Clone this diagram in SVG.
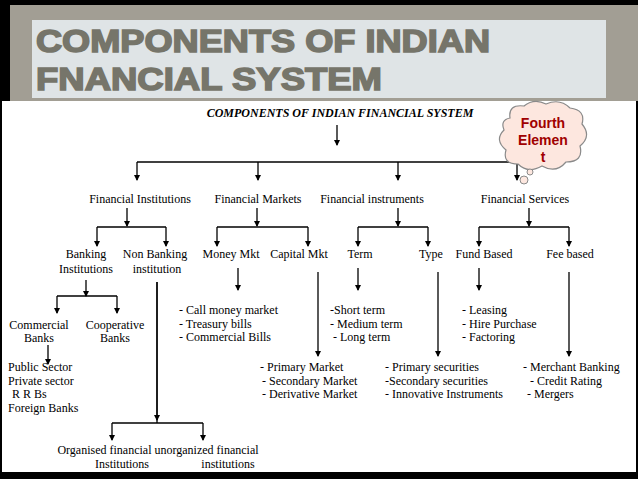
<svg xmlns="http://www.w3.org/2000/svg" width="638" height="479" viewBox="0 0 638 479">
<defs>
<marker id="ah" markerWidth="6" markerHeight="6" refX="5" refY="3" orient="auto" markerUnits="userSpaceOnUse"><path d="M0,0 L6,3 L0,6 z" fill="#000"/></marker>
<style>
.t{font-family:"Liberation Serif",serif;font-size:12px;fill:#000}
.m{text-anchor:middle}
.c{stroke:#000;stroke-width:1.3;fill:none}
.a{stroke:#000;stroke-width:1.3;fill:none;marker-end:url(#ah)}
.h{font-family:"Liberation Sans",Arial,sans-serif;font-weight:bold;font-size:32px;fill:#76756a;stroke:#76756a;stroke-width:1.6}
</style>
</defs>
<rect width="638" height="479" fill="#000"/>
<rect x="10" y="5" width="628" height="96" fill="#a29e94"/>
<rect x="32" y="20" width="574" height="78" fill="#dfe4e6"/>
<text x="36" y="52" class="h" textLength="454" lengthAdjust="spacingAndGlyphs">COMPONENTS OF INDIAN</text>
<text x="36" y="90" class="h" textLength="346" lengthAdjust="spacingAndGlyphs">FNANCIAL SYSTEM</text>
<rect x="2" y="101" width="634" height="371" fill="#fff"/>
<text x="340" y="117" class="t m" font-style="italic" font-weight="bold" font-size="11">COMPONENTS OF INDIAN FINANCIAL SYSTEM</text>
<g id="connectors">
<path class="a" d="M337,125 V145"/>
<path class="c" d="M137,162 H523"/>
<path class="a" d="M137,162 V180"/><path class="a" d="M258,162 V180"/><path class="a" d="M398,162 V180"/><path class="a" d="M517,162 V180"/>
<path class="a" d="M127,208 V226"/><path class="c" d="M97,227 H166"/><path class="a" d="M97,227 V246"/><path class="a" d="M166,227 V246"/>
<path class="a" d="M257,208 V226"/><path class="c" d="M217,227 H308"/><path class="a" d="M217,227 V246"/><path class="a" d="M308,227 V246"/>
<path class="a" d="M398,208 V226"/><path class="c" d="M358,227 H428"/><path class="a" d="M358,227 V246"/><path class="a" d="M428,227 V246"/>
<path class="a" d="M529,208 V226"/><path class="c" d="M479,227 H569"/><path class="a" d="M479,227 V246"/><path class="a" d="M569,227 V246"/>
<path class="a" d="M86,280 V296"/><path class="c" d="M57,296 H117"/><path class="a" d="M57,296 V313"/><path class="a" d="M117,296 V313"/>
<path class="c" d="M157,282 V423"/><path class="a" d="M157,282 V420"/><path class="c" d="M112,423 H203"/><path class="a" d="M112,423 V440"/><path class="a" d="M203,423 V440"/>
<path class="a" d="M238,268 V290"/><path class="a" d="M318,272 V356"/><path class="a" d="M358,268 V290"/><path class="a" d="M438,272 V356"/>
<path class="a" d="M479,268 V290"/><path class="a" d="M569,272 V356"/><path class="a" d="M48,345 V364"/>
</g>
<g id="level1">
<text x="140" y="203" class="t m">Financial Institutions</text>
<text x="258" y="203" class="t m">Financial Markets</text>
<text x="372" y="203" class="t m">Financial instruments</text>
<text x="525" y="203" class="t m">Financial Services</text>
</g>
<g id="level2">
<text x="86" y="258" class="t m">Banking</text><text x="86" y="273" class="t m">Institutions</text>
<text x="155" y="258" class="t m">Non Banking</text><text x="157" y="273" class="t m">institution</text>
<text x="231" y="258" class="t m">Money Mkt</text>
<text x="299" y="258" class="t m">Capital Mkt</text>
<text x="360" y="258" class="t m">Term</text>
<text x="431" y="258" class="t m">Type</text>
<text x="484" y="258" class="t m">Fund Based</text>
<text x="570" y="258" class="t m">Fee based</text>
</g>
<g id="level3">
<text x="39" y="329" class="t m">Commercial</text><text x="39" y="342" class="t m">Banks</text>
<text x="115" y="329" class="t m">Cooperative</text><text x="115" y="342" class="t m">Banks</text>
<text x="8" y="371" class="t">Public Sector</text>
<text x="8" y="385" class="t">Private sector</text>
<text x="12" y="398" class="t">R R Bs</text>
<text x="8" y="412" class="t">Foreign Banks</text>
<text x="179" y="314" class="t">- Call money market</text>
<text x="179" y="328" class="t">- Treasury bills</text>
<text x="179" y="341" class="t">- Commercial Bills</text>
<text x="330" y="314" class="t">-Short term</text>
<text x="330" y="328" class="t">- Medium term</text>
<text x="333" y="341" class="t">- Long term</text>
<text x="462" y="314" class="t">- Leasing</text>
<text x="462" y="328" class="t">- Hire Purchase</text>
<text x="462" y="341" class="t">- Factoring</text>
<text x="260" y="371" class="t">- Primary Market</text>
<text x="262" y="385" class="t">- Secondary Market</text>
<text x="262" y="398" class="t">- Derivative Market</text>
<text x="385" y="371" class="t">- Primary securities</text>
<text x="385" y="385" class="t">-Secondary securities</text>
<text x="385" y="398" class="t">- Innovative Instruments</text>
<text x="523" y="371" class="t">- Merchant Banking</text>
<text x="530" y="385" class="t">- Credit Rating</text>
<text x="527" y="398" class="t">- Mergers</text>
<text x="158" y="454" class="t m">Organised financial  unorganized financial</text>
<text x="122" y="468" class="t m">Institutions</text>
<text x="228" y="468" class="t m">institutions</text>
</g>
<g id="bubble">
<path d="M510,118 Q508,104 524,106 Q534,98 546,104 Q560,98 570,108 Q586,110 582,124 Q592,136 580,146 Q584,162 566,162 Q556,174 542,166 Q528,174 518,164 Q502,164 506,150 Q494,140 504,130 Q500,120 510,118 z" fill="#fde7df" stroke="#8a8a8a" stroke-width="1.2"/>
<circle cx="530" cy="172" r="3" fill="#fde7df" stroke="#8a8a8a"/>
<circle cx="524" cy="180" r="4" fill="#fde7df" stroke="#8a8a8a"/>
<text x="543" y="128" text-anchor="middle" font-family="Liberation Sans,Arial,sans-serif" font-weight="bold" font-size="14" fill="#a00000">Fourth</text>
<text x="543" y="145" text-anchor="middle" font-family="Liberation Sans,Arial,sans-serif" font-weight="bold" font-size="14" fill="#a00000">Elemen</text>
<text x="543" y="162" text-anchor="middle" font-family="Liberation Sans,Arial,sans-serif" font-weight="bold" font-size="14" fill="#a00000">t</text>
</g>
</svg>
